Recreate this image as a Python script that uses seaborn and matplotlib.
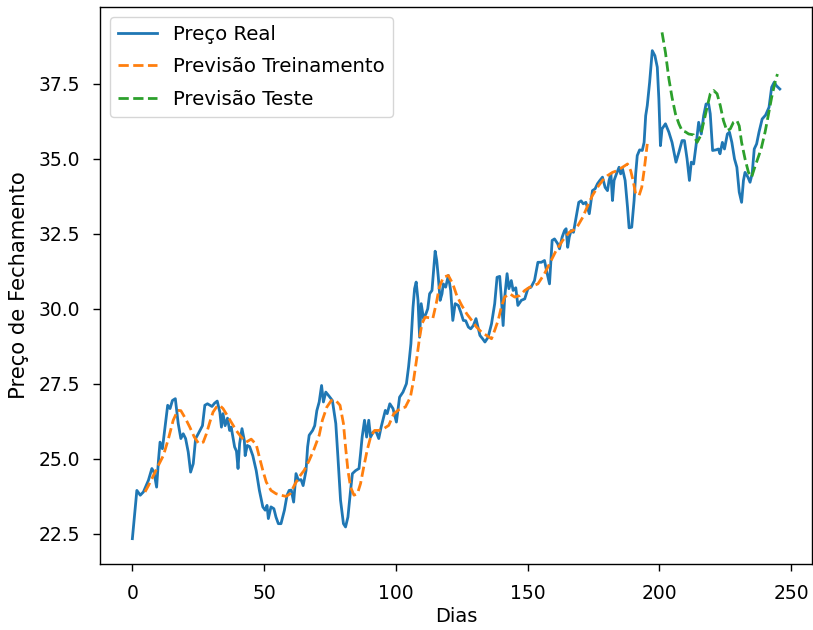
import matplotlib
matplotlib.use("Agg")
import matplotlib.pyplot as plt
import seaborn as sns
import pandas as pd

# Preço real (dia, valor)
dias_real = [0, 1.7, 3, 4.2, 6.1, 7.4, 8.2, 9.2, 9.9, 10.5, 11.4, 12.4, 13.4, 14.3, 15.2, 16.3, 17.4, 18.4,
             19.3, 20.2, 21.2, 22.1, 23.1, 24.0, 25.0, 26.6, 27.5, 28.5, 30.2, 31.2, 32.2, 33.2, 33.8, 34.4,
             35.2, 36.1, 36.9, 37.5, 38.8, 39.5, 40.1, 40.7, 41.6, 42.5, 42.8, 43.6, 44.5, 45.7, 47.0, 48.2,
             49.5, 50.4, 51.1, 51.6, 52.6, 53.7, 54.5, 55.4, 56.4, 57.7, 58.7, 59.5, 60.3, 61.2, 62.1, 63.0,
             64.0, 64.8, 65.9, 66.5, 67.1, 68.4, 69.2, 70.0, 70.9, 71.8, 72.5, 73.4, 74.5, 75.9, 77.2, 78.0,
             79.0, 80.1, 80.9, 81.8, 82.8, 83.5, 84.7, 86.0, 86.6, 87.2, 88.1, 88.9, 89.7, 90.4, 91.4, 92.5,
             93.5, 94.4, 95.4, 96.0, 96.7, 97.7, 98.9, 100.2, 101.4, 102.7, 104.0, 104.8, 105.7, 106.5, 107.1,
             107.7, 108.4, 109.0, 109.6, 110.5, 111.4, 112.1, 112.8, 113.7, 114.3, 114.9, 115.5, 116.1, 116.8,
             117.5, 118.0, 118.9, 119.9, 120.8, 121.6, 122.5, 123.7, 124.6, 125.6, 126.5, 127.5, 128.4, 129.4,
             130.4, 131.0, 131.9, 132.9, 133.8, 135.0, 136.3, 137.5, 138.4, 139.4, 140.0, 140.7, 141.3, 142.2,
             142.9, 143.8, 144.5, 145.5, 146.3, 147.6, 148.9, 150.1, 151.3, 152.6, 153.9, 155.2, 156.4, 157.3,
             158.3, 159.3, 160.2, 161.4, 162.1, 163.1, 164.0, 164.6, 165.2, 165.8, 166.5, 167.4, 168.4, 169.4,
             170.3, 171.1, 172.1, 173.4, 174.0, 174.6, 175.6, 176.5, 177.4, 178.4, 179.4, 180.3, 180.9, 181.6,
             182.2, 182.8, 183.7, 184.7, 185.3, 186.0, 187.0, 187.9, 188.5, 189.5, 190.4, 191.0, 191.6, 192.5,
             193.5, 194.2, 194.8, 195.4, 196.3, 197.3, 198.3, 199.2, 199.8, 200.4, 201.0, 202.3, 203.6, 204.8,
             206.3, 207.4, 208.6, 209.5, 210.5, 211.4, 212.1, 213.0, 213.9, 214.9, 215.9, 216.8, 217.7, 218.7,
             219.3, 220.2, 221.5, 222.4, 223.0, 223.9, 224.7, 225.8, 226.6, 227.5, 228.5, 229.4, 230.3, 231.2,
             231.9, 232.5, 233.6, 234.4, 235.2, 236.0, 236.9, 237.8, 239.0, 240.3, 241.6, 242.6, 243.6, 244.4,
             245.7]
preco_real = [22.33, 23.94, 23.78, 23.89, 24.28, 24.67, 24.55, 24.05, 24.94, 25.55, 25.33, 26.05, 26.78, 26.67,
              26.94, 27.0, 26.17, 25.67, 25.83, 25.67, 25.22, 24.55, 24.83, 25.67, 25.83, 26.1, 26.78, 26.83,
              26.74, 26.85, 26.92, 26.55, 26.05, 26.5, 26.1, 26.35, 25.94, 26.05, 25.39, 25.25, 24.67, 25.5,
              26.0, 25.6, 25.1, 25.44, 25.4, 25.1, 24.6, 23.94, 23.39, 23.28, 23.44, 23.0, 23.39, 23.33, 23.05,
              22.83, 22.83, 23.28, 23.78, 23.94, 23.95, 23.55, 24.5, 24.28, 24.3, 24.1, 24.6, 25.39, 25.78,
              25.94, 26.1, 26.6, 26.89, 27.44, 26.89, 27.22, 27.1, 26.94, 26.17, 25.06, 23.61, 22.83, 22.72,
              23.05, 23.94, 24.5, 24.6, 24.67, 25.17, 25.72, 26.28, 25.72, 26.28, 25.72, 25.89, 25.9, 25.67,
              26.05, 26.4, 26.61, 26.5, 26.83, 26.67, 26.22, 27.05, 27.22, 27.5, 28.05, 28.83, 30.05, 30.67,
              30.89, 30.28, 29.05, 30.17, 29.67, 29.83, 30.0, 30.5, 30.61, 31.28, 31.92, 31.61, 31.05, 30.28,
              30.5, 30.83, 30.72, 31.11, 30.61, 29.61, 30.17, 30.11, 29.89, 29.61, 29.6, 29.39, 29.33, 29.44,
              29.67, 29.44, 29.11, 29.0, 28.89, 29.05, 29.5, 30.17, 31.05, 31.08, 30.39, 29.44, 30.39, 31.17,
              30.67, 30.94, 30.61, 30.7, 30.11, 30.28, 30.33, 30.67, 30.72, 30.94, 31.55, 31.55, 31.61, 31.22,
              30.83, 32.28, 32.33, 32.17, 32.0, 32.39, 32.61, 32.67, 32.05, 32.39, 32.61, 32.55, 33.05, 33.55,
              33.6, 33.5, 33.55, 33.17, 33.55, 33.94, 34.0, 34.17, 34.28, 34.39, 34.05, 33.94, 34.28, 34.5,
              33.61, 34.28, 34.5, 34.72, 34.5, 34.67, 34.28, 33.39, 32.7, 32.72, 33.61, 34.5, 35.11, 35.3,
              35.28, 35.55, 36.44, 36.78, 37.56, 38.61, 38.44, 38.06, 37.0, 35.44, 36.0, 36.17, 35.89, 35.55,
              34.89, 35.22, 35.61, 35.61, 35.0, 34.28, 34.89, 34.83, 35.44, 36.22, 35.83, 36.44, 36.83, 36.83,
              36.5, 35.28, 35.3, 35.33, 35.17, 35.55, 35.33, 35.83, 35.89, 35.55, 35.0, 34.72, 33.89, 33.55,
              34.28, 34.55, 34.39, 34.22, 34.5, 35.33, 35.5, 35.89, 36.33, 36.46, 36.72, 37.39, 37.56, 37.44,
              37.33]

# Previsão de treinamento
dias_treino = [4.8, 6.1, 8.0, 9.9, 11.8, 13.7, 15.5, 17.2, 18.4, 20.2, 21.8, 23.5, 25.2, 26.9, 28.1, 29.4,
               30.6, 31.9, 33.1, 34.4, 36.0, 37.5, 39.4, 41.3, 43.2, 45.1, 47.0, 48.2, 49.5, 50.8, 52.6, 54.5,
               56.4, 58.3, 59.9, 61.4, 63.3, 65.2, 67.1, 69.0, 70.9, 72.1, 73.8, 75.5, 77.2, 78.8, 80.1, 80.9,
               81.8, 82.8, 84.1, 85.4, 86.6, 87.8, 89.1, 90.4, 91.9, 93.5, 95.4, 97.3, 99.2, 101.7, 103.6,
               105.5, 106.7, 108.0, 109.0, 109.9, 111.1, 112.7, 114.0, 115.3, 116.5, 118.0, 119.9, 121.6,
               123.1, 125.0, 126.9, 128.8, 130.6, 132.5, 134.4, 136.3, 137.5, 138.8, 140.0, 141.3, 143.2,
               145.1, 147.0, 148.9, 150.8, 153.9, 156.4, 158.3, 160.8, 163.3, 165.8, 168.4, 170.9, 172.8,
               174.6, 176.5, 178.4, 180.3, 182.2, 184.1, 186.0, 187.9, 189.1, 190.0, 191.0, 192.3, 193.3,
               194.2, 194.8, 195.4]
prev_treino = [23.89, 24.1, 24.44, 24.78, 25.11, 25.67, 26.28, 26.61, 26.6, 26.33, 26.05, 25.72, 25.5, 25.55,
               25.83, 26.22, 26.55, 26.72, 26.78, 26.67, 26.44, 26.22, 25.94, 25.72, 25.55, 25.65, 25.47,
               25.05, 24.61, 24.22, 23.94, 23.83, 23.78, 23.74, 23.83, 24.1, 24.39, 24.61, 24.94, 25.33,
               25.78, 26.28, 26.72, 26.94, 26.94, 26.78, 26.17, 25.39, 24.61, 24.05, 23.78, 23.83, 24.17,
               24.72, 25.28, 25.72, 25.94, 25.94, 26.0, 26.11, 26.5, 26.67, 26.72, 27.05, 27.61, 28.39,
               29.05, 29.5, 29.72, 29.7, 29.67, 30.17, 30.72, 31.05, 31.11, 30.83, 30.44, 30.11, 29.83,
               29.61, 29.39, 29.22, 29.11, 29.0, 29.28, 29.61, 30.05, 30.39, 30.5, 30.39, 30.44, 30.61,
               30.72, 30.83, 31.17, 31.5, 31.94, 32.28, 32.55, 32.67, 33.05, 33.44, 33.78, 34.05, 34.28,
               34.44, 34.55, 34.61, 34.72, 34.83, 34.61, 34.28, 33.83, 33.78, 34.05, 34.61, 35.05, 35.5]

# Previsão de teste
dias_teste = [201.0, 202.3, 203.6, 204.8, 206.1, 207.4, 208.6, 209.9, 211.1, 213.0, 214.3, 215.5, 216.8,
              218.1, 219.3, 220.6, 221.9, 223.1, 224.3, 225.6, 226.9, 228.1, 229.4, 230.3, 231.2, 232.5,
              233.8, 235.0, 236.0, 237.3, 238.6, 240.1, 241.3, 242.6, 243.9, 244.8]
prev_teste = [39.22, 38.55, 37.67, 37.05, 36.5, 36.17, 35.94, 35.9, 35.83, 35.8, 35.55, 35.75, 36.22, 36.72,
              37.17, 37.28, 37.17, 36.78, 36.28, 35.94, 36.0, 36.22, 36.28, 36.1, 35.55, 35.0, 34.55, 34.39,
              34.67, 35.0, 35.33, 35.89, 36.44, 37.05, 37.56, 37.83]

FS = 13.5
plt.rcParams["font.family"] = ["DejaVu Sans"]
plt.rcParams["font.size"] = FS

fig = plt.figure(figsize=(8.13, 6.30), dpi=100)
ax = fig.add_axes([0.123, 0.1048, 0.876, 0.884])

df_real = pd.DataFrame({"Dias": dias_real, "Preço": preco_real})
df_tr = pd.DataFrame({"Dias": dias_treino, "Preço": prev_treino})
df_te = pd.DataFrame({"Dias": dias_teste, "Preço": prev_teste})

sns.lineplot(data=df_real, x="Dias", y="Preço", ax=ax, color="#1f77b4", linewidth=2.0,
             label="Preço Real")
sns.lineplot(data=df_tr, x="Dias", y="Preço", ax=ax, color="#ff7f0e", linewidth=2.0,
             linestyle="--", label="Previsão Treinamento")
sns.lineplot(data=df_te, x="Dias", y="Preço", ax=ax, color="#2ca02c", linewidth=2.0,
             linestyle="--", label="Previsão Teste")

ax.set_xticks([0, 50, 100, 150, 200, 250])
ax.set_yticks([22.5, 25.0, 27.5, 30.0, 32.5, 35.0, 37.5])
ax.set_yticklabels(["22.5", "25.0", "27.5", "30.0", "32.5", "35.0", "37.5"])
ax.tick_params(labelsize=FS, length=4.7, width=1.0, pad=9.5)
ax.set_xlabel("Dias", fontsize=14)
ax.set_ylabel("Preço de Fechamento", fontsize=15.2)
ax.xaxis.set_label_coords(0.5, -0.077)
ax.yaxis.set_label_coords(-0.100, 0.5)
for s in ax.spines.values():
    s.set_linewidth(1.0)

leg = ax.legend(loc="upper left", fontsize=14.2, labelspacing=0.68)

fig.savefig("out.png", dpi=100)
